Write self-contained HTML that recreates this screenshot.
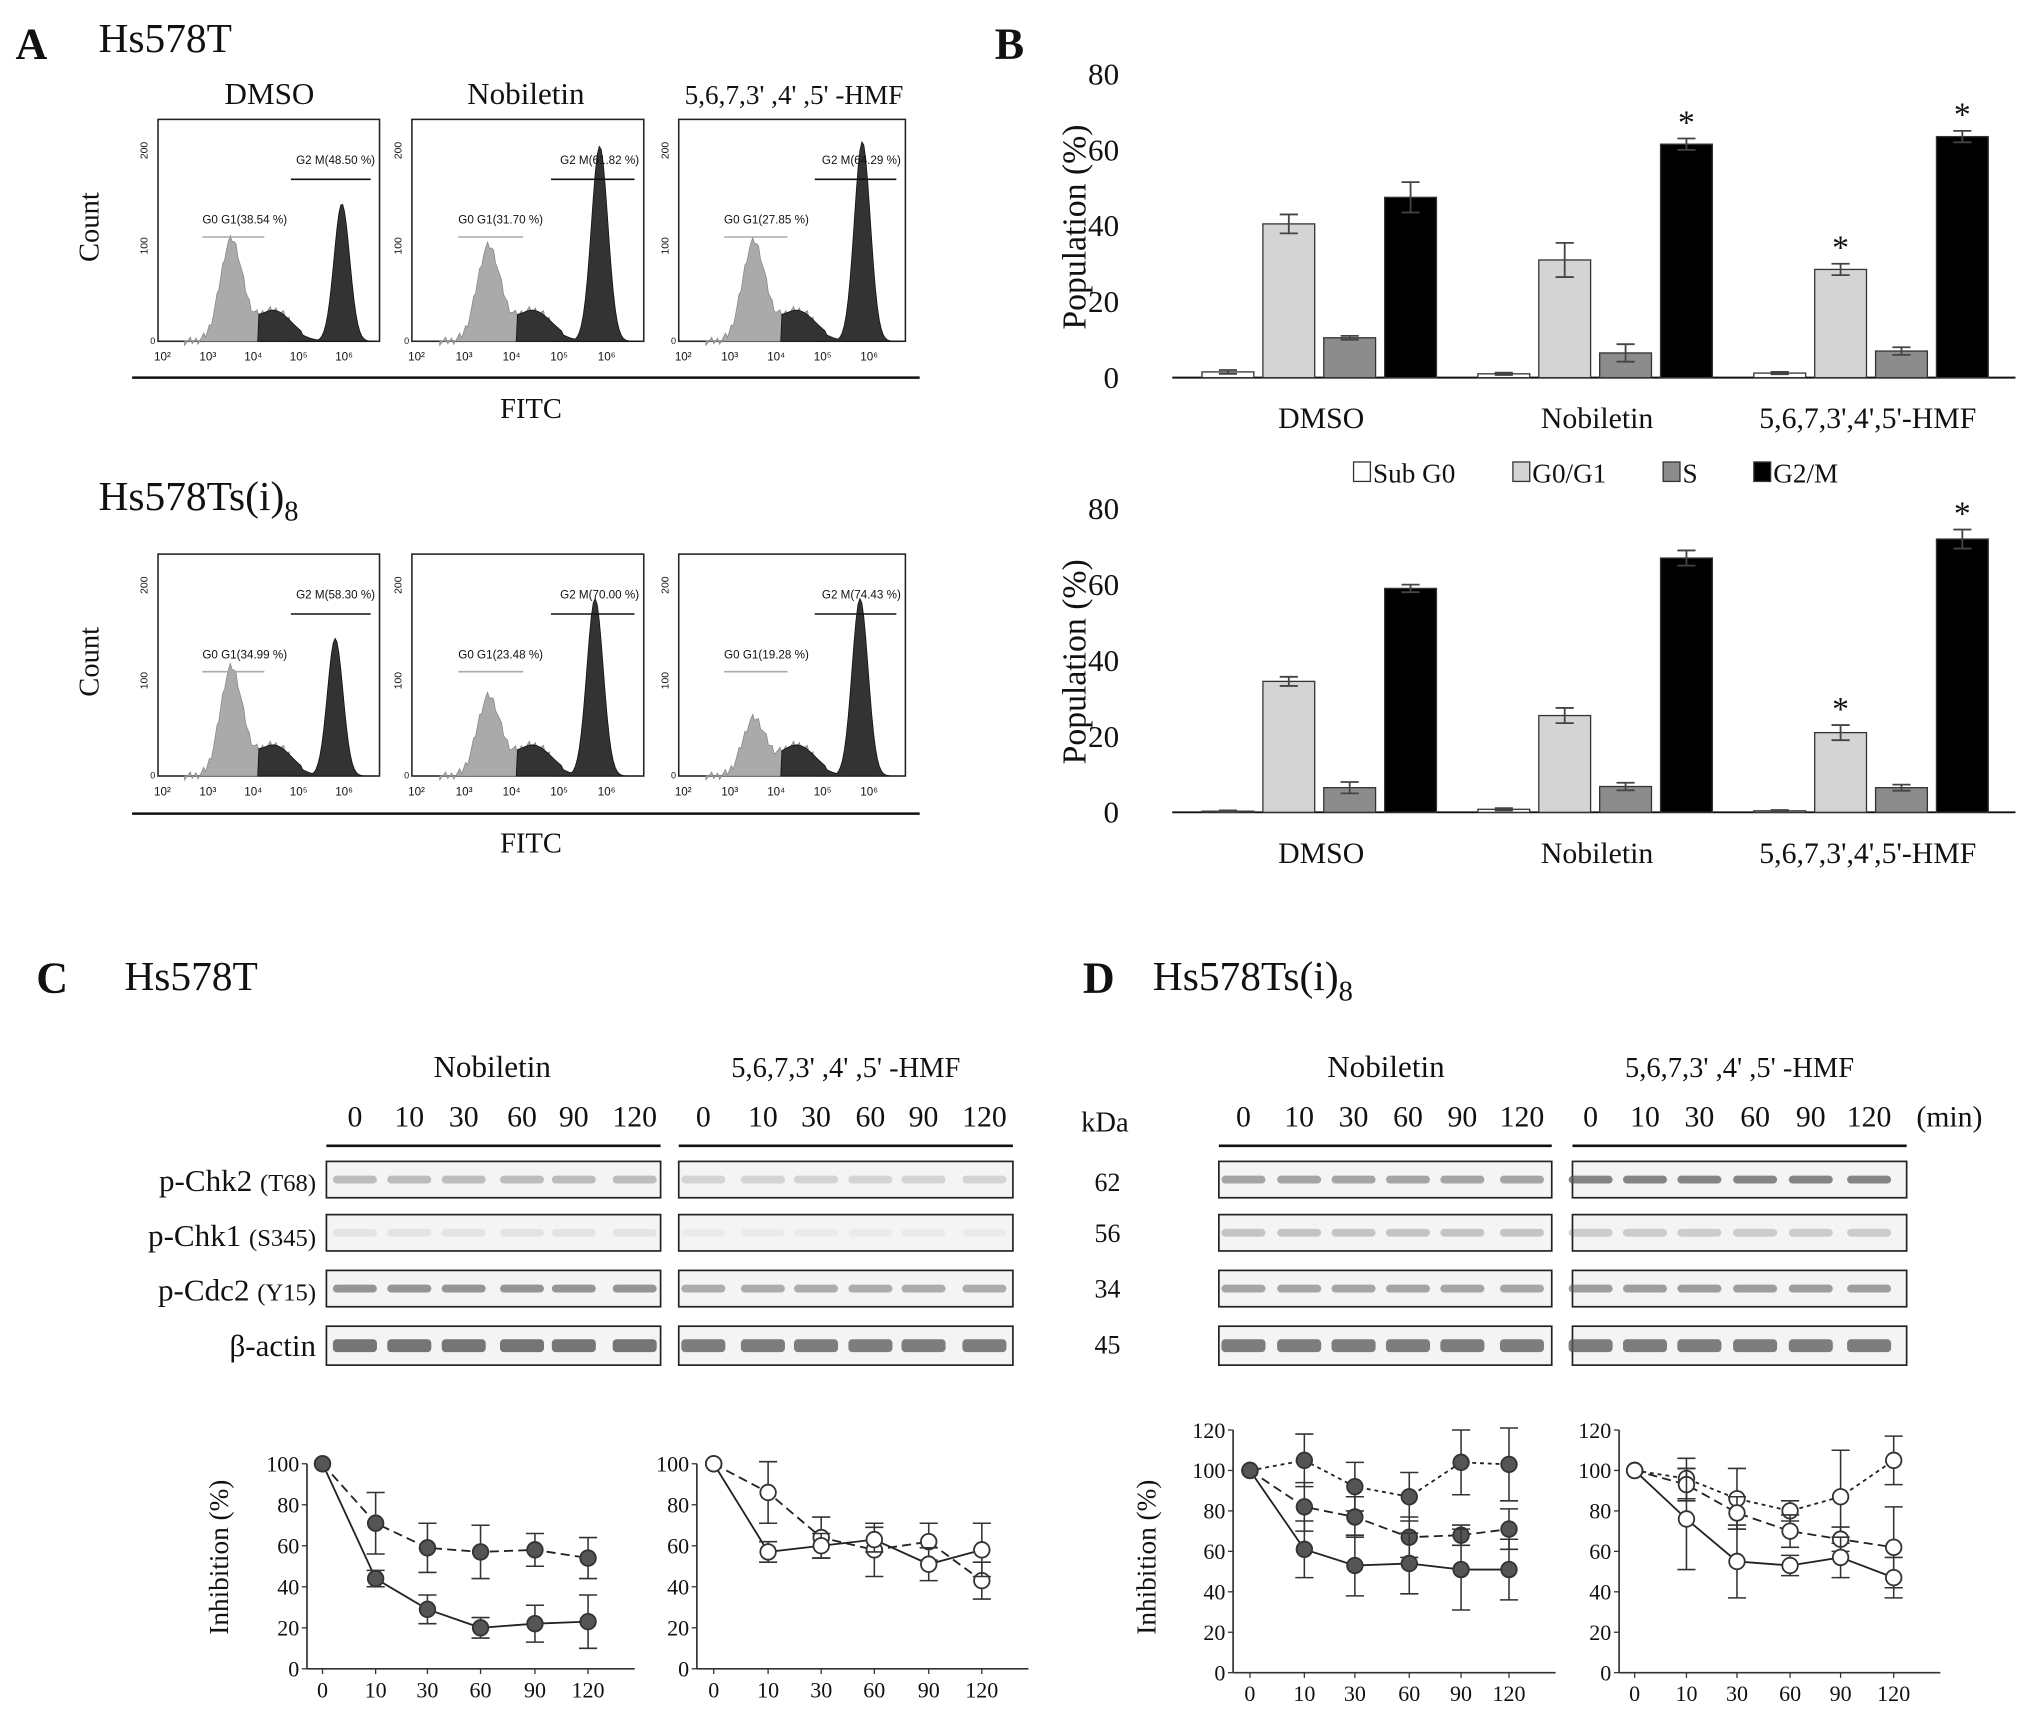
<!DOCTYPE html>
<html><head><meta charset="utf-8"><style>
html,body{margin:0;padding:0;background:#fff;}
svg{display:block;}
text{font-family:"Liberation Serif",serif;fill:#111;}
.s{font-family:"Liberation Sans",sans-serif;}
</style></head><body>
<svg id="fig" width="2031" height="1722" viewBox="0 0 1568 1327" preserveAspectRatio="none" xmlns="http://www.w3.org/2000/svg">
<rect x="0" y="0" width="1568" height="1327" fill="#fff"/>
<g id="pA">
<text x="12" y="45" font-size="34" font-weight="bold">A</text>
<text x="76" y="40" font-size="32">Hs578T</text>
<text x="76" y="393" font-size="32">Hs578Ts(i)<tspan font-size="22" dy="8">8</tspan></text>
<text x="208" y="80" font-size="24" text-anchor="middle">DMSO</text>
<text x="406" y="80" font-size="24" text-anchor="middle">Nobiletin</text>
<text x="613" y="80" font-size="21" text-anchor="middle">5,6,7,3' ,4' ,5' -HMF</text>
<text x="410" y="322" font-size="22" text-anchor="middle">FITC</text>
<text x="410" y="657" font-size="22" text-anchor="middle">FITC</text>
<text transform="translate(76,175) rotate(-90)" font-size="22" text-anchor="middle">Count</text>
<text transform="translate(76,510) rotate(-90)" font-size="22" text-anchor="middle">Count</text>
<line x1="102" y1="291" x2="710" y2="291" stroke="#111" stroke-width="2"/>
<line x1="102" y1="627" x2="710" y2="627" stroke="#111" stroke-width="2"/>
</g>
<g id="pB">
<text x="768" y="45" font-size="34" font-weight="bold">B</text>
<text transform="translate(838,175) rotate(-90)" font-size="26" text-anchor="middle">Population (%)</text>
<text transform="translate(838,510) rotate(-90)" font-size="26" text-anchor="middle">Population (%)</text>
</g>
<g id="pC">
<text x="28" y="765" font-size="34" font-weight="bold">C</text>
<text x="96" y="763" font-size="32">Hs578T</text>
<text x="380" y="830" font-size="24" text-anchor="middle">Nobiletin</text>
<text x="653" y="830" font-size="22" text-anchor="middle">5,6,7,3' ,4' ,5' -HMF</text>
<text x="244" y="918" font-size="24" text-anchor="end">p-Chk2 <tspan font-size="19">(T68)</tspan></text>
<text x="244" y="960" font-size="24" text-anchor="end">p-Chk1 <tspan font-size="19">(S345)</tspan></text>
<text x="244" y="1002" font-size="24" text-anchor="end">p-Cdc2 <tspan font-size="19">(Y15)</tspan></text>
<text x="244" y="1045" font-size="24" text-anchor="end">β-actin</text>
<text transform="translate(176,1200) rotate(-90)" font-size="21" text-anchor="middle">Inhibition (%)</text>
</g>
<g id="pD">
<text x="836" y="765" font-size="34" font-weight="bold">D</text>
<text x="890" y="763" font-size="32">Hs578Ts(i)<tspan font-size="22" dy="8">8</tspan></text>
<text x="1070" y="830" font-size="24" text-anchor="middle">Nobiletin</text>
<text x="1343" y="830" font-size="22" text-anchor="middle">5,6,7,3' ,4' ,5' -HMF</text>
<text x="1505" y="868" font-size="23" text-anchor="middle">(min)</text>
<text x="853" y="872" font-size="22" text-anchor="middle">kDa</text>
<text x="855" y="918" font-size="20" text-anchor="middle">62</text>
<text x="855" y="957" font-size="20" text-anchor="middle">56</text>
<text x="855" y="1000" font-size="20" text-anchor="middle">34</text>
<text x="855" y="1043" font-size="20" text-anchor="middle">45</text>
<text transform="translate(892,1200) rotate(-90)" font-size="21" text-anchor="middle">Inhibition (%)</text>
</g>
</svg>
<script>
// ---------- Panel B data ----------
const bCategories = ["DMSO","Nobiletin","5,6,7,3',4',5'-HMF"];
const bPhases = ["Sub G0","G0/G1","S","G2/M"];
const bTicks = [0,20,40,60,80];
const topValues = [[1.5,40.5,10.5,47.5],[1,31,6.5,61.5],[1.2,28.5,7,63.5]];
const topErrors = [[0.5,2.5,0.5,4],[0.3,4.5,2.3,1.5],[0.3,1.5,1,1.5]];
const topStars = [[false,false,false,false],[false,false,false,true],[false,true,false,true]];
const botValues = [[0.3,34.5,6.5,59],[0.8,25.5,6.8,67],[0.4,21,6.5,72]];
const botErrors = [[0.2,1.2,1.5,1],[0.3,2,1,2],[0.2,2,0.8,2.5]];
const botStars = [[false,false,false,false],[false,false,false,false],[false,true,false,true]];
// ---------- Line chart data ----------
const timeLabels = ["0","10","30","60","90","120"];
const cNobSolid = [100,44,29,20,22,23], cNobSolidErr=[0,4,7,5,9,13];
const cNobDash = [100,71,59,57,58,54], cNobDashErr=[0,15,12,13,8,10];
const cHmfSolid = [100,57,60,63,51,58], cHmfSolidErr=[0,5,6,6,8,13];
const cHmfDash = [100,86,64,58,62,43], cHmfDashErr=[0,15,10,13,9,9];
const dNobSolid = [100,61,53,54,51,51], dNobSolidErr=[0,14,15,15,20,15];
const dNobDash1 = [100,105,92,87,104,103], dNobDash1Err=[0,13,12,12,16,18];
const dNobDash2 = [100,82,77,67,68,71], dNobDash2Err=[0,12,10,10,5,10];
const dHmfSolid = [100,76,55,53,57,47], dHmfSolidErr=[0,25,18,5,10,10];
const dHmfDash1 = [100,96,86,80,87,105], dHmfDash1Err=[0,10,15,5,23,12];
const dHmfDash2 = [100,93,79,70,66,62], dHmfDash2Err=[0,8,8,8,6,20];
const cTicks=[0,20,40,60,80,100], dTicks=[0,20,40,60,80,100,120];

const NS="http://www.w3.org/2000/svg";
const fig=document.getElementById('fig');
function mk(tag,attrs,parent,txt){const e=document.createElementNS(NS,tag);for(const k in attrs)e.setAttribute(k,attrs[k]);if(txt!==undefined)e.textContent=txt;(parent||fig).appendChild(e);return e;}

// ---------- Histograms (panel A) ----------
const histBoxes=[[122,92,293,263],[318,92,497,263],[524,92,699,263],[122,427,293,598],[318,427,497,598],[524,427,699,598]];
const histLabels=[["G0 G1(38.54 %)","G2 M(48.50 %)"],["G0 G1(31.70 %)","G2 M(61.82 %)"],["G0 G1(27.85 %)","G2 M(64.29 %)"],["G0 G1(34.99 %)","G2 M(58.30 %)"],["G0 G1(23.48 %)","G2 M(70.00 %)"],["G0 G1(19.28 %)","G2 M(74.43 %)"]];
const g1Height=[0.45,0.42,0.44,0.48,0.35,0.25];
const g2Height=[0.62,0.88,0.9,0.62,0.8,0.8];
const g2Pos=[0.83,0.81,0.81,0.8,0.79,0.8];
histBoxes.forEach((b,i)=>{
  const g=mk('g',{});
  
  
  const [x0,y0,x1,y1]=b,w=x1-x0,h=y1-y0;
  mk('rect',{x:x0,y:y0,width:w,height:h,fill:'none',stroke:'#222','stroke-width':1.2},g);
  let pl=`M${x0+w*0.12},${y1}`,pd=`M${x0+w*0.45},${y1}`;
  for(let k=0;k<=100;k++){const t=0.12+k/100*0.86;const xx=x0+t*w;
    const a=g1Height[i]*Math.exp(-Math.pow((t-0.33)/0.07,2))+0.14*Math.exp(-Math.pow((t-0.52)/0.12,2));
    const d=g2Height[i]*Math.exp(-Math.pow((t-g2Pos[i])/0.05,2));
    const jitter=((k*37)%7-3)*0.006;
    if(t<0.6) pl+=` L${xx},${y1-h*(a+jitter)}`;
    if(t>=0.45) pd+=` L${xx},${y1-h*Math.max(a*(t<0.65?1:0.7),d)}`;}
  pl+=` L${x0+w*0.6},${y1} Z`;pd+=` L${x0+w*0.98},${y1} Z`;
  mk('path',{d:pl,fill:'#aaa',stroke:'#888','stroke-width':0.6},g);
  mk('path',{d:pd,fill:'#333',stroke:'#111','stroke-width':0.6},g);
  [[100,0.43],[200,0.86]].forEach(([v,f])=>mk('text',{x:x0-8,y:y1-h*f,'font-size':8,'text-anchor':'middle',class:'s',transform:`rotate(-90 ${x0-8} ${y1-h*f})`},g,String(v)));
  mk('text',{x:x0-6,y:y1+2,'font-size':7,class:'s'},g,'0');
  ['10²','10³','10⁴','10⁵','10⁶'].forEach((t,k)=>mk('text',{x:x0+w*(0.02+k*0.205),y:y1+15,'font-size':9,class:'s','text-anchor':'middle'},g,t));
  mk('line',{x1:x0+w*0.2,y1:y0+h*0.53,x2:x0+w*0.48,y2:y0+h*0.53,stroke:'#aaa','stroke-width':1.2},g);
  mk('text',{x:x0+w*0.2,y:y0+h*0.47,'font-size':9,class:'s',fill:'#999'},g,histLabels[i][0]);
  mk('line',{x1:x0+w*0.6,y1:y0+h*0.27,x2:x0+w*0.96,y2:y0+h*0.27,stroke:'#111','stroke-width':1.2},g);
  mk('text',{x:x0+w*0.98,y:y0+h*0.2,'font-size':9,class:'s','text-anchor':'end'},g,histLabels[i][1]);
});

// ---------- Bar charts (panel B) ----------
function barChart(name,y0px,yTop,values,errors,stars,labY){
  const g=mk('g',{});
  
  
  const yS=v=>y0px-(y0px-yTop)*v/80;
  const fills=['#fff','#d4d4d4','#8c8c8c','#000'];
  mk('line',{x1:905,y1:y0px,x2:1556,y2:y0px,stroke:'#111','stroke-width':1.5},g);
  bTicks.forEach(t=>{const tx=mk('text',{x:864,y:yS(t)+8,'font-size':24,'text-anchor':'end'},g,String(t));
    
    });
  values.forEach((grp,ci)=>{
    grp.forEach((v,pi)=>{
      const cx=948+ci*213+pi*47,bw=40;
      const r=mk('rect',{x:cx-bw/2,y:yS(v),width:bw,height:y0px-yS(v),fill:fills[pi],stroke:'#333','stroke-width':1},g);
      
      
      const e=errors[ci][pi];
      mk('path',{d:`M${cx},${yS(v+e)}V${yS(v-e)}M${cx-7},${yS(v+e)}H${cx+7}M${cx-7},${yS(v-e)}H${cx+7}`,stroke:'#444','stroke-width':1.4,fill:'none'},g);
      if(stars[ci][pi]) mk('text',{x:cx,y:yS(v+e)-4,'font-size':26,'text-anchor':'middle'},g,'*');
    });
    const lx=[1020,1233,1442][ci];
    const tl=mk('text',{x:lx,y:labY,'font-size':23,'text-anchor':'middle'},g,bCategories[ci]);
    
    
  });
}
barChart('bar-chart-hs578t',291,57,topValues,topErrors,topStars,330);
barChart('bar-chart-hs578ts',626,392,botValues,botErrors,botStars,665);
const legX=[1045,1168,1284,1354];const legF=['#fff','#d4d4d4','#8c8c8c','#000'];
bPhases.forEach((p,i)=>{const g=mk('g',{});
  
  
  mk('rect',{x:legX[i],y:356,width:13,height:15,fill:legF[i],stroke:'#333'},g);
  mk('text',{x:legX[i]+15,y:372,'font-size':21},g,p);});

// ---------- Western blots ----------
const blotRows=[[895,923],[936,964],[979,1007],[1022,1052]];
const bandDark={c1:[0.35,0.1,0.6,0.8],c2:[0.2,0.05,0.45,0.75],d1:[0.5,0.3,0.5,0.75],d2:[0.7,0.25,0.55,0.75]};
function blot(name,x0,x1,lanes,dark,lineY,labFont){
  const g=mk('g',{});
  
  
  mk('line',{x1:x0,y1:lineY,x2:x1,y2:lineY,stroke:'#111','stroke-width':2},g);
  lanes.forEach((lx,i)=>mk('text',{x:lx,y:lineY-15,'font-size':labFont,'text-anchor':'middle'},g,timeLabels[i]));
  blotRows.forEach((r,ri)=>{
    mk('rect',{x:x0,y:r[0],width:x1-x0,height:r[1]-r[0],fill:'#f4f4f4',stroke:'#222','stroke-width':1.3},g);
    lanes.forEach(lx=>{const h=ri==3?10:6;
      mk('rect',{x:lx-17,y:(r[0]+r[1])/2-h/2,width:34,height:h,rx:3,fill:'#555','fill-opacity':dark[ri]},g);});
  });
}
blot('blot-c-nobiletin',252,510,[274,316,358,403,443,490],bandDark.c1,883,23);
blot('blot-c-hmf',524,782,[543,589,630,672,713,760],bandDark.c2,883,23);
blot('blot-d-nobiletin',941,1198,[960,1003,1045,1087,1129,1175],bandDark.d1,883,23);
blot('blot-d-hmf',1214,1472,[1228,1270,1312,1355,1398,1443],bandDark.d2,883,23);

// ---------- Line charts ----------
function lineChart(name,axX,xs,y0,yTop,maxV,ticks,series){
  const g=mk('g',{});
  
  
  const yS=v=>y0-(y0-yTop)*v/maxV;
  const xEnd=xs[5]+36;
  mk('line',{x1:axX,y1:y0,x2:xEnd,y2:y0,stroke:'#333','stroke-width':1.3},g);
  mk('line',{x1:axX,y1:y0,x2:axX,y2:yTop,stroke:'#333','stroke-width':1.3},g);
  ticks.forEach(t=>{mk('line',{x1:axX-4,y1:yS(t),x2:axX,y2:yS(t),stroke:'#333'},g);
    mk('text',{x:axX-6,y:yS(t)+6,'font-size':17,'text-anchor':'end'},g,String(t));});
  xs.forEach((x,i)=>{mk('line',{x1:x,y1:y0,x2:x,y2:y0+4,stroke:'#333'},g);
    mk('text',{x:x,y:y0+22,'font-size':17,'text-anchor':'middle'},g,timeLabels[i]);});
  series.forEach(s=>{
    const d=s.vals.map((v,i)=>(i?'L':'M')+xs[i]+','+yS(v)).join(' ');
    const l=mk('path',{d:d,fill:'none',stroke:'#222','stroke-width':1.4,'stroke-dasharray':s.dash||'none'},g);
    
    
    s.vals.forEach((v,i)=>{const e=s.err[i];
      if(e>0) mk('path',{d:`M${xs[i]},${yS(v+e)}V${yS(v-e)}M${xs[i]-7},${yS(v+e)}H${xs[i]+7}M${xs[i]-7},${yS(v-e)}H${xs[i]+7}`,stroke:'#333','stroke-width':1.2,fill:'none'},g);});
    s.vals.forEach((v,i)=>{const c=mk('circle',{cx:xs[i],cy:yS(v),r:6,fill:s.fill,stroke:'#333','stroke-width':1.4},g);
      
      });
  });
}
lineChart('c-nobiletin-chart',237,[249,290,330,371,413,454],1286,1128,100,cTicks,[
 {vals:cNobDash,err:cNobDashErr,dash:'7,4',fill:'#555'},{vals:cNobSolid,err:cNobSolidErr,fill:'#555'}]);
lineChart('c-hmf-chart',538,[551,593,634,675,717,758],1286,1128,100,cTicks,[
 {vals:cHmfDash,err:cHmfDashErr,dash:'7,4',fill:'#fff'},{vals:cHmfSolid,err:cHmfSolidErr,fill:'#fff'}]);
lineChart('d-nobiletin-chart',952,[965,1007,1046,1088,1128,1165],1289,1102,120,dTicks,[
 {vals:dNobDash1,err:dNobDash1Err,dash:'3,3',fill:'#555'},{vals:dNobDash2,err:dNobDash2Err,dash:'7,4',fill:'#555'},{vals:dNobSolid,err:dNobSolidErr,fill:'#555'}]);
lineChart('d-hmf-chart',1250,[1262,1302,1341,1382,1421,1462],1289,1102,120,dTicks,[
 {vals:dHmfDash1,err:dHmfDash1Err,dash:'3,3',fill:'#fff'},{vals:dHmfDash2,err:dHmfDash2Err,dash:'7,4',fill:'#fff'},{vals:dHmfSolid,err:dHmfSolidErr,fill:'#fff'}]);
</script>
</body></html>
